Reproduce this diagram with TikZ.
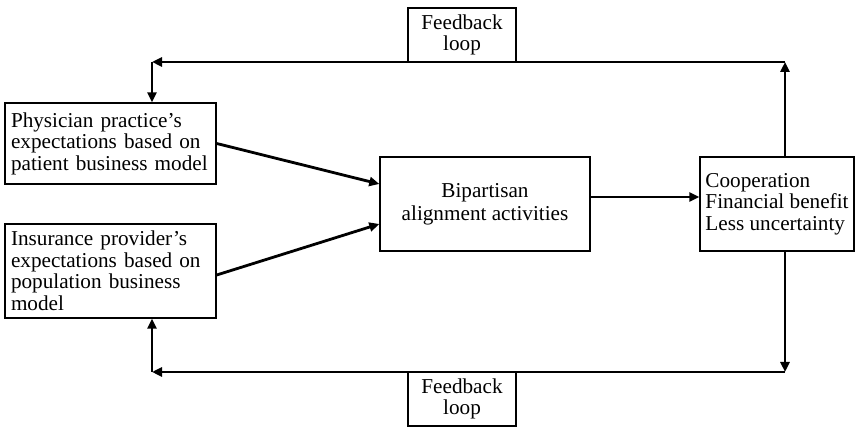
\documentclass[tikz,border=0pt]{standalone}
\usepackage{fontspec}
\setmainfont{Liberation Serif}
\usetikzlibrary{arrows.meta}
\begin{document}
\begin{tikzpicture}[x=1pt,y=-1pt,
  box/.style={draw,line width=1.4pt,inner sep=0pt,
    font=\fontsize{21.2pt}{21.5pt}\selectfont},
  conn/.style={line width=2.8pt,-{Triangle[length=10pt,width=9pt]}}]
\useasboundingbox (0,0) rectangle (855,427);

% boxes
\node[box,minimum width=211pt,minimum height=81pt,text width=199pt,align=left]
  (phys) at (110.5,143.5) {Physician practice’s\\expectations based on\\patient business model};
\node[box,minimum width=211pt,minimum height=94pt,text width=199pt,align=left]
  (ins) at (110.5,271) {Insurance provider’s\\expectations based on\\population business\\model};
\node[box,minimum width=210pt,minimum height=94pt,align=center,
  font=\fontsize{21.2pt}{23pt}\selectfont]
  (bip) at (485,204) {Bipartisan\\alignment activities};
\node[box,minimum width=154pt,minimum height=94pt,align=left]
  (coop) at (777,204) {Cooperation\\Financial benefit\\Less uncertainty};
\node[box,minimum width=108pt,minimum height=54pt,align=center]
  (fbtop) at (462,35) {Feedback\\loop};
\node[box,minimum width=108pt,minimum height=54pt,align=center]
  (fbbot) at (462,399) {Feedback\\loop};

% loop corners
\coordinate (tr) at (785,62);
\coordinate (tl) at (152,62);
\coordinate (br) at (785,372);
\coordinate (bl) at (152,372);

% main flow
\draw[conn] (phys.east) -- ([yshift=20pt]bip.west);
\draw[conn] ([yshift=-4pt]ins.east) -- ([yshift=-20pt]bip.west);
\draw[conn] ([yshift=7pt]bip.east) -- ([yshift=7pt]coop.west);

% upper feedback loop
\draw[conn] (coop.north -| tr) -- (tr);
\draw[conn] (tr) -- (tl);
\draw[conn] (tl) -- (phys.north -| tl);

% lower feedback loop
\draw[conn] (coop.south -| br) -- (br);
\draw[conn] (br) -- (bl);
\draw[conn] (bl) -- (ins.south -| bl);
\end{tikzpicture}
\end{document}
